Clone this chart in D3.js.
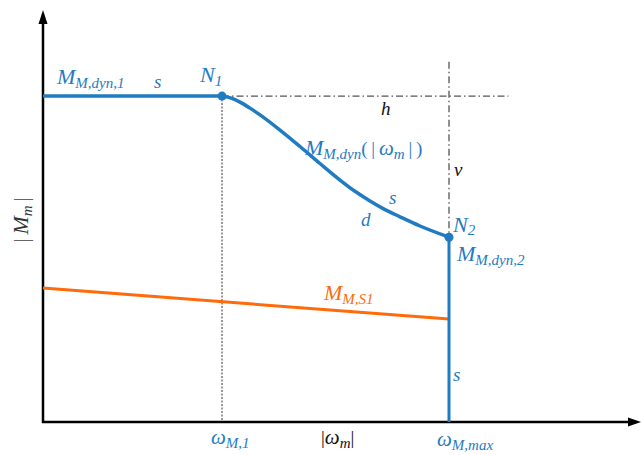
<!DOCTYPE html>
<html>
<head>
<meta charset="utf-8">
<script src="https://cdn.jsdelivr.net/npm/d3@7"></script>
<style>
  html, body { margin: 0; padding: 0; background: #fff; }
</style>
</head>
<body>
<svg id="chart" width="641" height="455"></svg>
<script>
// Speed range shown on the |ω_m| axis and torque range on the |M_m| axis
const speedDomain = [0, 3335];
const torqueDomain = [0, 125.8];

// Characteristic speeds
const omegaM1 = 1000;
const omegaMax = 2268;

// Peak torque plateau and end-point torque
const torqueDyn1 = 100;
const torqueDyn2 = 56.7;

// Dynamic torque limit M_M,dyn(|ω_m|) between N1 and N2
const dynOmega  = [1000, 1055.8, 1100.5, 1156.4, 1212.2, 1323.9, 1435.7, 1547.4, 1659.1, 1742.9, 1826.7, 1910.5, 1994.3, 2106.0, 2268];
const dynTorque = [100, 99.29, 98.16, 96.31, 94.23, 89.57, 84.53, 79.32, 74.25, 70.79, 67.81, 65.17, 62.96, 60.14, 56.7];

// Continuous (S1) torque line
const s1Omega  = [0, 2268];
const s1Torque = [41.1, 31.6];

const blue = "#1f7bc2";
const orange = "#ff6a0a";
const guide = "#555";
const serif = "Liberation Serif";

const svg = d3.select("#chart");
const x = d3.scaleLinear().domain(speedDomain).range([43, 640]);
const y = d3.scaleLinear().domain(torqueDomain).range([422, 12]);

// Guide lines
svg.append("line")
  .attr("x1", x(omegaM1)).attr("x2", x(omegaM1))
  .attr("y1", y(torqueDyn1)).attr("y2", y(0))
  .attr("stroke", guide).attr("stroke-width", 1.2)
  .attr("stroke-dasharray", "2,1.5");

svg.append("line")
  .attr("x1", x(omegaM1)).attr("x2", x(2600))
  .attr("y1", y(torqueDyn1)).attr("y2", y(torqueDyn1))
  .attr("stroke", guide).attr("stroke-width", 1.3)
  .attr("stroke-dasharray", "7,3,1.5,3");

svg.append("line")
  .attr("x1", x(omegaMax)).attr("x2", x(omegaMax))
  .attr("y1", y(110.5)).attr("y2", y(torqueDyn2))
  .attr("stroke", guide).attr("stroke-width", 1.3)
  .attr("stroke-dasharray", "7,3,1.5,3");

// Axes with arrow heads
const axisG = svg.append("g");
axisG.append("line")
  .attr("x1", x(0)).attr("x2", x(0))
  .attr("y1", y(0) + 1).attr("y2", y(torqueDomain[1]) + 8)
  .attr("stroke", "#000").attr("stroke-width", 2.5);
axisG.append("path")
  .attr("d", `M${x(0)},${y(torqueDomain[1]) - 2} L${x(0) - 4.5},${y(torqueDomain[1]) + 12} L${x(0) + 4.5},${y(torqueDomain[1]) + 12} Z`)
  .attr("fill", "#000");
axisG.append("line")
  .attr("x1", x(0) - 1).attr("x2", x(speedDomain[1]) - 8)
  .attr("y1", y(0)).attr("y2", y(0))
  .attr("stroke", "#000").attr("stroke-width", 2.5);
axisG.append("path")
  .attr("d", `M${x(speedDomain[1]) + 1},${y(0)} L${x(speedDomain[1]) - 12},${y(0) - 4.5} L${x(speedDomain[1]) - 12},${y(0) + 4.5} Z`)
  .attr("fill", "#000");

// S1 line
svg.append("path")
  .datum(s1Omega.map((w, i) => [w, s1Torque[i]]))
  .attr("d", d3.line().x(d => x(d[0])).y(d => y(d[1])))
  .attr("fill", "none").attr("stroke", orange).attr("stroke-width", 3);

// Peak torque plateau up to N1
svg.append("line")
  .attr("x1", x(0)).attr("x2", x(omegaM1))
  .attr("y1", y(torqueDyn1)).attr("y2", y(torqueDyn1))
  .attr("stroke", blue).attr("stroke-width", 3.5);

// Dynamic torque curve N1 -> N2
svg.append("path")
  .datum(dynOmega.map((w, i) => [w, dynTorque[i]]))
  .attr("d", d3.line().curve(d3.curveMonotoneX).x(d => x(d[0])).y(d => y(d[1])))
  .attr("fill", "none").attr("stroke", blue).attr("stroke-width", 3.5)
  .attr("stroke-linecap", "round");

// Drop at maximum speed
svg.append("line")
  .attr("x1", x(omegaMax)).attr("x2", x(omegaMax))
  .attr("y1", y(torqueDyn2)).attr("y2", y(0))
  .attr("stroke", blue).attr("stroke-width", 3);

// Points N1 and N2
svg.selectAll("circle.node")
  .data([[omegaM1, torqueDyn1], [omegaMax, torqueDyn2]])
  .join("circle")
  .attr("class", "node")
  .attr("cx", d => x(d[0])).attr("cy", d => y(d[1]))
  .attr("r", 4.5).attr("fill", blue);

// Labels: parts = [text, size, dy, style]
function label(px, py, parts, color) {
  const t = svg.append("text")
    .attr("x", px).attr("y", py)
    .attr("fill", color)
    .attr("font-family", serif)
    .attr("font-style", "italic");
  parts.forEach(p => {
    t.append("tspan")
      .attr("font-size", p[1])
      .attr("dy", p[2] || 0)
      .attr("font-style", p[3] || "italic")
      .text(p[0]);
  });
  return t;
}

label(57, 84, [["M", 22], ["M,dyn,1", 15, 4]], blue);
label(154, 88, [["s", 19]], blue);
label(200, 82, [["N", 22], ["1", 15, 4]], blue);
label(381, 115, [["h", 19]], "#111");
label(305, 155, [["M", 22], ["M,dyn", 15, 4], ["(\u2009|\u2009", 19, -4, "normal"], ["ω", 21], ["m", 15, 4], ["\u2009|\u2009)", 19, -4, "normal"]], blue);
label(454, 176, [["v", 19]], "#111");
label(389, 204, [["s", 19]], blue);
label(361, 226, [["d", 19]], blue);
label(453, 232, [["N", 22], ["2", 15, 3]], blue);
label(457, 261, [["M", 22], ["M,dyn,2", 15, 4]], blue);
label(324, 300, [["M", 22], ["M,S1", 15, 4]], orange);
label(453, 381, [["s", 19]], blue);
label(211, 444, [["ω", 21], ["M,1", 15, 4]], blue);
label(321, 444, [["|", 19, 0, "normal"], ["ω", 21], ["m", 15, 4], ["|", 19, -4, "normal"]], "#111");
label(437, 446, [["ω", 21], ["M,max", 15, 4]], blue);

// Vertical axis title
svg.append("text")
  .attr("transform", "translate(28,220) rotate(-90)")
  .attr("text-anchor", "middle")
  .attr("fill", "#333")
  .attr("font-family", serif)
  .call(t => {
    t.append("tspan").attr("font-size", 20).attr("font-style", "normal").attr("fill", "#666").text("|\u2009");
    t.append("tspan").attr("font-size", 22).attr("font-style", "italic").text("M");
    t.append("tspan").attr("font-size", 15).attr("font-style", "italic").attr("dy", 4).text("m");
    t.append("tspan").attr("font-size", 20).attr("font-style", "normal").attr("fill", "#666").attr("dy", -4).text("\u2009|");
  });
</script>
</body>
</html>
